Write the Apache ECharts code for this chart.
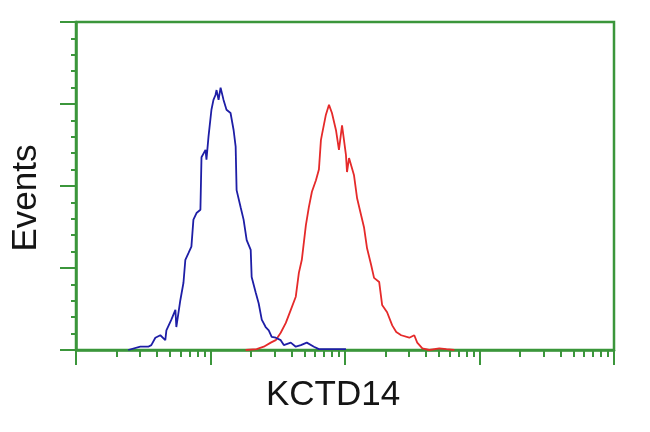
<!DOCTYPE html>
<html><head><meta charset="utf-8">
<script src="https://cdn.jsdelivr.net/npm/echarts@6/dist/echarts.min.js"></script>
<style>html,body{margin:0;padding:0;background:#fff}#c{width:650px;height:432px}</style>
</head><body><div id="c"></div>
<script>
// x: log10 fluorescence (decades), y: events (relative units)
const blueX = [0.388,0.478,0.537,0.56,0.59,0.627,0.664,0.672,0.709,0.739,0.746,0.776,0.799,0.813,0.836,0.858,0.873,0.896,0.925,0.933,0.963,0.970,0.985,1.007,1.022,1.037,1.045,1.060,1.075,1.097,1.119,1.149,1.172,1.187,1.194,1.224,1.246,1.269,1.299,1.306,1.336,1.358,1.381,1.410,1.433,1.455,1.485,1.522,1.545,1.597,1.634,1.672,1.716,1.769,1.806,2.007];
const blueY = [0,0.04,0.04,0.06,0.15,0.18,0.12,0.24,0.37,0.49,0.28,0.61,0.82,1.10,1.18,1.26,1.59,1.67,1.71,2.35,2.44,2.32,2.60,2.93,3.05,3.11,3.17,3.05,3.20,3.05,2.93,2.89,2.68,2.48,1.95,1.74,1.59,1.34,1.22,0.89,0.70,0.57,0.37,0.28,0.24,0.16,0.15,0.12,0.06,0.09,0.04,0.06,0.09,0.04,0.01,0.01];
const redX = [1.261,1.343,1.396,1.448,1.485,1.522,1.560,1.597,1.634,1.657,1.679,1.709,1.731,1.754,1.784,1.806,1.821,1.828,1.858,1.881,1.903,1.933,1.955,1.978,2.007,2.015,2.030,2.067,2.090,2.119,2.142,2.164,2.194,2.216,2.254,2.276,2.313,2.351,2.381,2.418,2.478,2.515,2.537,2.575,2.627,2.701,2.754,2.813];
const redY = [0,0.01,0.04,0.09,0.12,0.21,0.33,0.49,0.65,0.94,1.10,1.52,1.74,1.93,2.07,2.20,2.56,2.62,2.87,2.99,2.89,2.68,2.44,2.74,2.38,2.17,2.34,2.13,1.85,1.65,1.49,1.24,1.04,0.88,0.83,0.55,0.46,0.30,0.22,0.18,0.15,0.18,0.09,0.02,0,0.02,0.01,0];
const majorTicksX = [0,1,2,3,4];
const minorFactors = [2,3,4,5,6,7,8,9];
const xLabel = 'KCTD14';
const yLabel = 'Events';

const green = '#3b963b';
const minorTicksX = [];
for (let d = 0; d < 4; d++) for (const k of minorFactors) minorTicksX.push(d + Math.log10(k));

const chart = echarts.init(document.getElementById('c'), null, {renderer:'canvas'});
const zip = (xs, ys) => xs.map((x,i)=>[x, ys[i]]);
chart.setOption({
  animation:false,
  grid:{left:76,right:36,top:22,bottom:82,show:true,borderColor:green,borderWidth:2.5,backgroundColor:'transparent'},
  xAxis:[
    {type:'value',min:0,max:4,position:'bottom',
     axisLine:{show:true,lineStyle:{color:green,width:2.5}},
     axisTick:{show:true,customValues:majorTicksX,length:15,inside:false,lineStyle:{color:green,width:2}},
     axisLabel:{show:false},splitLine:{show:false}},
    {type:'value',min:0,max:4,position:'bottom',
     axisLine:{show:false},
     axisTick:{show:true,customValues:minorTicksX,length:7,inside:false,lineStyle:{color:green,width:2}},
     axisLabel:{show:false},splitLine:{show:false}}
  ],
  yAxis:{type:'value',min:0,max:4,interval:1,
    axisLine:{show:true,lineStyle:{color:green,width:2.5}},
    axisTick:{show:true,length:16,lineStyle:{color:green,width:2}},
    minorTick:{show:true,splitNumber:5,length:5,lineStyle:{color:green,width:2}},
    axisLabel:{show:false},splitLine:{show:false}},
  graphic:[
    {type:'text',left:'center',x:0,style:{text:xLabel,font:'35px "Liberation Sans", Arial, sans-serif',fill:'#151515'},position:[0,0],
     left:266, top:378},
    {type:'text',style:{text:yLabel,font:'35px "Liberation Sans", Arial, sans-serif',fill:'#151515',align:'center',verticalAlign:'middle'},
     x:26,y:198,rotation:Math.PI/2}
  ],
  series:[
    {type:'line',data:zip(blueX,blueY),showSymbol:false,lineStyle:{color:'#1e1ea6',width:1.8},z:3},
    {type:'line',data:zip(redX,redY),showSymbol:false,lineStyle:{color:'#e52a2a',width:1.8},z:2}
  ]
});
</script></body></html>
